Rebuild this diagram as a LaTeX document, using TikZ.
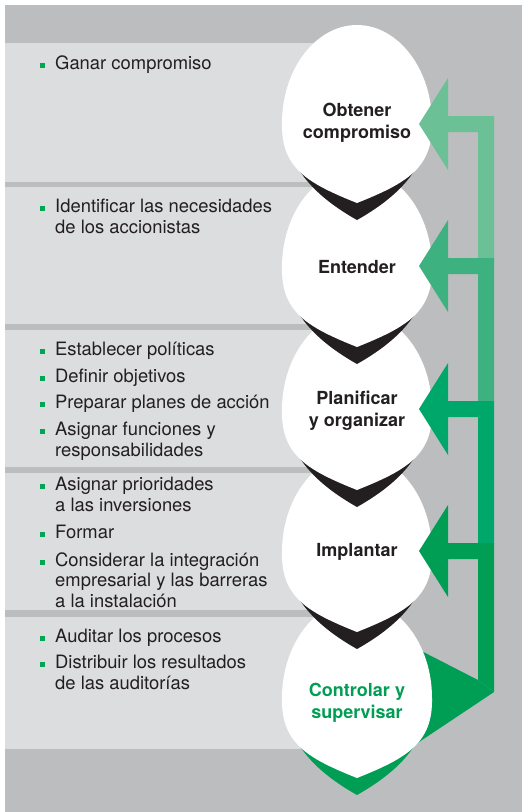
\documentclass[tikz,border=0pt]{standalone}
\usepackage{fontspec}
\setmainfont{TeX Gyre Heros}
\usetikzlibrary{positioning}

\definecolor{ink}{HTML}{231F20}
\definecolor{backgray}{HTML}{BCBDBF}
\definecolor{panelgray}{HTML}{DCDDDF}
\definecolor{greenA}{HTML}{6CC096}
\definecolor{greenB}{HTML}{3DB17F}
\definecolor{greenC}{HTML}{00A76A}
\definecolor{greenD}{HTML}{009E55}
\definecolor{bulletgreen}{HTML}{00A651}

% leaf outline and its shadow, around the leaf centre
\newcommand{\leafwhite}{(-75,0) .. controls (-75,-54) and (-41,-98) .. (0,-98)
  .. controls (41,-98) and (75,-54) .. (75,0) .. controls (76,45) and (50,60) .. (0,80)
  .. controls (-50,60) and (-76,45) .. (-75,0) -- cycle}
\newcommand{\leafshade}{(-72,0) -- (72,0) .. controls (72,50) and (30,80) .. (0,97)
  .. controls (-30,80) and (-72,50) .. (-72,0) -- cycle}
% arrow back into a stage: colour, centre y, end of the bar
\newcommand{\backarrow}[3]{%
  \fill[#1] (419,#2) -- (448,#2-46) -- (448,#2-8) -- (494,#2-8) -- (494,#3)
    -- (478,#3) -- (478,#2+8) -- (448,#2+8) -- (448,#2+46) -- cycle;}

\begin{document}
\begin{tikzpicture}[x=1pt,y=-1pt,
    point/.style={anchor=base west, align=left, inner sep=0pt, text=ink,
      font=\fontsize{18.4}{21.5}\selectfont},
    stage/.style={align=center, inner sep=0pt, text=ink,
      font=\bfseries\fontsize{18}{22}\selectfont},
    bulletsq/.style={fill=bulletgreen},
    panel/.style={fill=panelgray}]
  \useasboundingbox (0,0) rectangle (522,812);
  \fill[white] (0,0) rectangle (522,812);
  \fill[backgray] (5,5) rectangle (522,812);

  % panels
  \fill[panel] (5,43) rectangle (357,182);
  \fill[panel] (5,187) rectangle (357,324);
  \fill[panel] (5,330) rectangle (357,467);
  \fill[panel] (5,473) rectangle (357,610);
  \fill[panel] (5,617) rectangle (357,749);

  % return to the first stage
  \fill[greenD] (400,640) -- (478,680) -- (494,692) -- (395,758) -- cycle;

  % stages, lowest first
  \foreach \yc/\shcol in {698/greenD, 552/ink, 410/ink, 267/ink, 123/ink} {
    \begin{scope}[shift={(357,\yc)}]
      \fill[\shcol] \leafshade;
      \fill[white] \leafwhite;
    \end{scope}
  }

  \node[stage] (obtener) at (357,123) {Obtener\\compromiso};
  \node[stage] (entender) at (357,267) {Entender};
  \node[stage] (planificar) at (357,411) {Planificar\\y organizar};
  \node[stage] (implantar) at (357,552) {Implantar};
  \node[stage, text=greenD] (controlar) at (357,703) {Controlar y\\supervisar};

  % arrows
  \backarrow{greenA}{124}{258}
  \backarrow{greenB}{266}{401}
  \backarrow{greenC}{409}{543}
  \fill[greenD] (419,551) -- (448,505) -- (448,543) -- (494,543) -- (494,692)
    -- (478,680) -- (478,559) -- (448,559) -- (448,597) -- cycle;

  % points (multi-line ones sit on their last line)
  \foreach \b in {69,212,355,382,408,435,490,538,566,642,668}
    \fill[bulletsq] (40,\b-6) rectangle ++(5,5);
  \node[point] (ganar) at (55,69) {Ganar compromiso};
  \node[point] (identificar) at (55,233.5) {Identificar las necesidades\\de los accionistas};
  \node[point] (establecer) at (55,355) {Establecer políticas};
  \node[point] (definir) at (55,382) {Definir objetivos};
  \node[point] (preparar) at (55,408) {Preparar planes de acción};
  \node[point] (funciones) at (55,456.5) {Asignar funciones y\\responsabilidades};
  \node[point] (prioridades) at (55,511.5) {Asignar prioridades\\a las inversiones};
  \node[point] (formar) at (55,538) {Formar};
  \node[point, font=\fontsize{18.4}{20.5}\selectfont] (considerar) at (55,607)
    {Considerar la integración\\empresarial y las barreras\\a la instalación};
  \node[point] (auditar) at (55,642) {Auditar los procesos};
  \node[point] (distribuir) at (55,689.5) {Distribuir los resultados\\de las auditorías};
\end{tikzpicture}
\end{document}
